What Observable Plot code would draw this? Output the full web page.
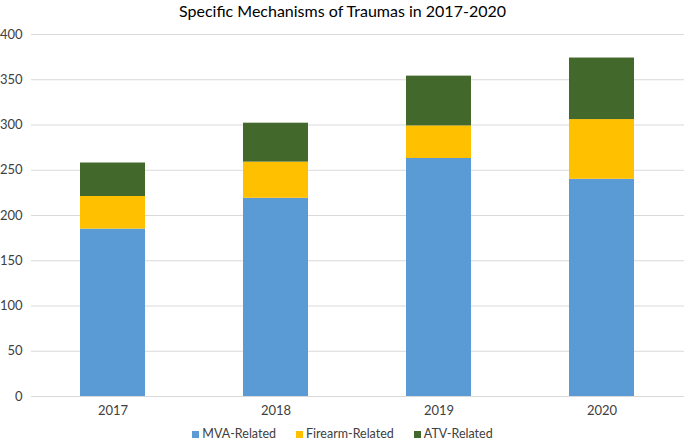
<!DOCTYPE html>
<html>
<head>
<meta charset="utf-8">
<script src="https://cdn.jsdelivr.net/npm/d3@7"></script>
<script src="https://cdn.jsdelivr.net/npm/@observablehq/plot@0.6"></script>
<style>
  html, body { margin: 0; padding: 0; background: #fff; }
  #wrap { position: relative; width: 685px; height: 441px; font-family: Lato, "Open Sans", sans-serif; }
  #title { position: absolute; top: 1px; left: 0; width: 685px; text-align: center; font-size: 16px; color: #000; }
  #legend { position: absolute; top: 426px; left: 0; width: 685px; text-align: center; font-size: 12.5px; color: #404040; }
  #legend span.item { margin: 0 10px; }
  #legend span.sw { display: inline-block; width: 7px; height: 7px; margin-right: 3px; }
  #chart { position: absolute; top: 0; left: 0; }
</style>
</head>
<body>
<div id="wrap">
  <div id="chart"></div>
  <div id="title">Specific Mechanisms of Traumas in 2017-2020</div>
  <div id="legend"></div>
</div>
<script>
const years = ["2017", "2018", "2019", "2020"];
const series = ["MVA-Related", "Firearm-Related", "ATV-Related"];
const colors = ["#5b9bd5", "#ffc000", "#43682b"];
const mva = [185, 219, 263, 240];
const firearm = [36, 40, 36, 66];
const atv = [37, 43, 55, 68];
const yTicks = [0, 50, 100, 150, 200, 250, 300, 350, 400];

const values = [mva, firearm, atv];
const data = [];
series.forEach((s, si) => years.forEach((y, yi) => data.push({year: y, series: s, value: values[si][yi]})));

const chart = Plot.plot({
  width: 685,
  height: 441,
  marginTop: 34,
  marginBottom: 45,
  marginLeft: 31,
  marginRight: 1,
  style: {fontFamily: "Lato, 'Open Sans', sans-serif", fontSize: "13px", color: "#404040", background: "#fff"},
  x: {domain: years, paddingInner: 0.6, paddingOuter: 0.3, label: null},
  y: {domain: [0, 400], label: null},
  color: {domain: series, range: colors},
  marks: [
    Plot.ruleY(yTicks, {stroke: "#d9d9d9", strokeWidth: 1}),
    Plot.barY(data, {x: "year", y: "value", fill: "series", order: series}),
    Plot.axisY(yTicks, {tickSize: 0, tickPadding: 9, fontSize: 13, fill: "#404040"}),
    Plot.axisX({tickSize: 0, tickPadding: 9, fontSize: 13, fill: "#404040"})
  ]
});
document.getElementById("chart").appendChild(chart);

const legend = document.getElementById("legend");
series.forEach((s, i) => {
  const item = document.createElement("span");
  item.className = "item";
  const sw = document.createElement("span");
  sw.className = "sw";
  sw.style.background = colors[i];
  item.appendChild(sw);
  item.appendChild(document.createTextNode(s));
  legend.appendChild(item);
});
</script>
</body>
</html>
